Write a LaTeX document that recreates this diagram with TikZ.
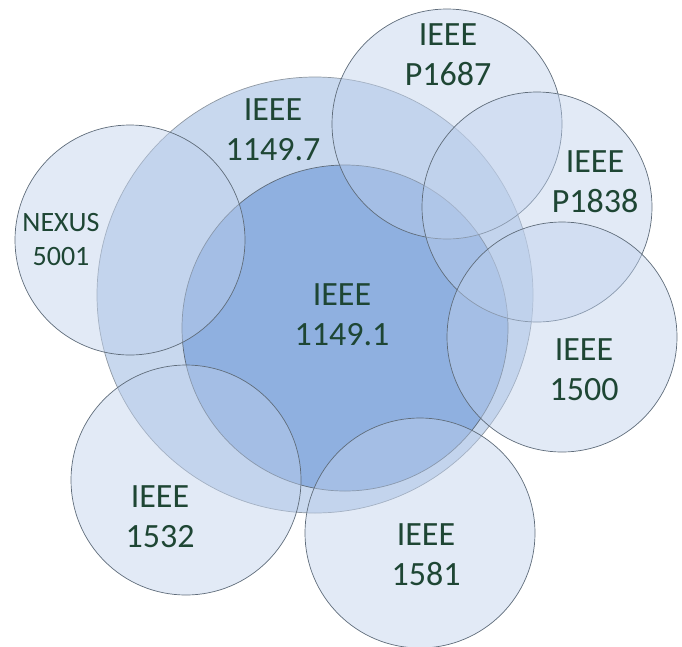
\documentclass[tikz,border=0pt]{standalone}
\usepackage{fontspec}
\setmainfont{Carlito}
\usepackage{tikz}

\definecolor{ringblue}{RGB}{200,216,238}
\definecolor{coreblue}{RGB}{143,176,224}
\definecolor{stdblue}{RGB}{190,208,236}
\definecolor{edgegray}{RGB}{95,108,122}
\definecolor{labelgreen}{RGB}{30,70,52}

\tikzset{
	std/.style={circle, draw=edgegray, line width=0.7pt, fill=stdblue, fill opacity=0.45, inner sep=0pt, minimum size=230pt},
	lbl/.style={text=labelgreen, align=center, font=\fontsize{34}{40}\selectfont}
}

\begin{document}
\begin{tikzpicture}[x=1pt, y=-1pt]
		\useasboundingbox (0,0) rectangle (682,646);
		\node[circle, draw=edgegray!70, line width=0.7pt, fill=ringblue, inner sep=0pt, minimum size=436pt] (c1149p7) at (315,295) {};
		\node[circle, draw=edgegray, line width=0.7pt, fill=coreblue, inner sep=0pt, minimum size=326pt] (c1149p1) at (345,328) {};
		\node[std] (cnexus) at (130,240) {};
		\node[std] (cp1687) at (447,124) {};
		\node[std] (cp1838) at (537,207) {};
		\node[std] (c1500) at (562,337) {};
		\node[std] (c1532) at (186,480) {};
		\node[std] (c1581) at (420,533) {};
		
		\node[lbl] (t1149p1) at (342,315) {IEEE\\1149.1};
		\node[lbl] (t1149p7) at (273,130) {IEEE\\1149.7};
		\node[lbl, font=\fontsize{28}{34}\selectfont] (tnexus) at (61,240) {NEXUS\\5001};
		\node[lbl] (tp1687) at (448,55) {IEEE\\P1687};
		\node[lbl] (tp1838) at (595,182) {IEEE\\P1838};
		\node[lbl] (t1500) at (584,370) {IEEE\\1500};
		\node[lbl] (t1532) at (160,517) {IEEE\\1532};
		\node[lbl] (t1581) at (426,555) {IEEE\\1581};
	\end{tikzpicture}
\end{document}
